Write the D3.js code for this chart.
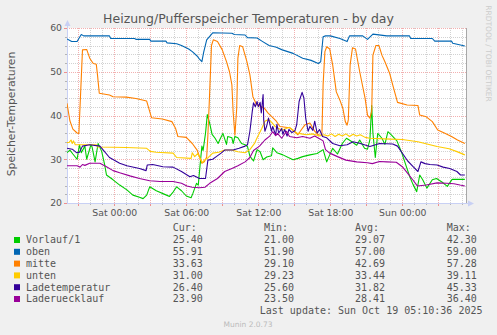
<!DOCTYPE html>
<html>
<head>
<meta charset="utf-8">
<script src="https://cdn.jsdelivr.net/npm/d3@7"></script>
<style>
  html, body { margin: 0; padding: 0; background: #F0F0F0; }
  svg { display: block; }
</style>
</head>
<body>
<svg id="chart" width="497" height="335"></svg>
<script>
// ---- chart text ----
const chartTitle = "Heizung/Pufferspeicher Temperaturen - by day";
const yAxisLabel = "Speicher-Temperaturen";
const sideNote = "RRDTOOL / TOBI OETIKER";
const lastUpdate = "Last update: Sun Oct 19 05:10:36 2025";
const footer = "Munin 2.0.73";

// ---- axes (time in hours relative to Sat 00:00) ----
const xDomain = [-3.94, 29.39];
const xTickHours = [0, 6, 12, 18, 24];
const xTickLabels = ["Sat 00:00", "Sat 06:00", "Sat 12:00", "Sat 18:00", "Sun 00:00"];
const yDomain = [20, 60];
const yTicks = [20, 30, 40, 50, 60];

// ---- legend ----
const seriesNames = ["Vorlauf/1", "oben", "mitte", "unten", "Ladetemperatur", "Laderuecklauf"];
const seriesColors = ["#00CC00", "#0066B3", "#FF8000", "#FFCC00", "#330099", "#990099"];
const statHeaders = ["Cur:", "Min:", "Avg:", "Max:"];
const curValues = ["25.40", "55.91", "33.63", "31.00", "26.40", "23.90"];
const minValues = ["21.00", "51.90", "29.10", "29.23", "25.60", "23.50"];
const avgValues = ["29.07", "57.00", "42.69", "33.44", "31.82", "28.41"];
const maxValues = ["42.30", "59.00", "57.28", "39.11", "45.33", "36.40"];

// ---- series: [hour, °C] ----
const vorlauf = [[-3.94,31.5],[-3.7,32.1],[-3.45,31.2],[-3.1,30.0],[-2.9,33.3],[-2.75,31.5],[-2.45,33.0],[-2.3,30.0],[-1.95,33.3],[-1.85,32.8],[-1.6,29.4],[-1.35,33.6],[-1.05,31.8],[-0.8,28.7],[-0.65,26.4],[-0.1,25.3],[0.45,24.1],[1.05,23.0],[1.55,21.8],[2.1,21.3],[2.4,21.0],[2.7,21.8],[2.95,23.7],[3.5,22.8],[4.35,21.8],[4.6,21.5],[4.9,22.5],[5.2,23.7],[5.6,22.8],[6.0,21.6],[6.4,21.2],[6.55,22.2],[6.85,24.5],[7.0,24.1],[7.15,28.7],[7.3,33.0],[7.4,32.0],[7.6,35.9],[7.75,40.2],[7.95,38.2],[8.15,35.7],[8.4,34.8],[8.65,33.6],[8.8,34.5],[9.05,35.9],[9.35,33.4],[9.45,35.2],[9.8,34.9],[9.9,33.6],[10.05,35.2],[10.3,34.9],[10.6,33.6],[10.9,33.3],[11.1,32.9],[11.3,30.7],[11.6,29.6],[11.9,32.2],[12.15,31.7],[12.4,29.9],[12.7,30.5],[13.1,30.8],[13.2,32.6],[13.55,31.5],[14.05,31.0],[14.5,30.4],[14.9,29.9],[15.3,30.2],[15.7,30.6],[16.3,31.0],[16.9,31.3],[17.4,32.2],[17.7,29.4],[17.95,31.0],[18.2,32.5],[18.6,31.2],[19.0,33.6],[19.35,34.8],[19.8,34.0],[20.2,33.2],[20.45,34.4],[20.85,32.5],[21.1,32.3],[21.3,34.5],[21.45,42.3],[21.55,36.0],[21.75,30.4],[21.95,35.9],[22.3,34.8],[22.55,33.4],[22.8,36.3],[23.1,35.5],[23.55,34.2],[23.95,31.5],[24.4,27.8],[24.65,25.8],[24.9,24.2],[25.2,22.6],[25.45,26.4],[25.7,25.3],[26.05,23.4],[26.5,25.3],[26.85,25.6],[27.3,24.8],[27.75,23.8],[28.15,25.4],[29.21,25.4]];

const oben = [[-3.94,57.5],[-3.55,56.9],[-3.1,56.9],[-2.75,58.5],[-2.55,58.2],[-0.4,58.2],[-0.3,57.6],[1.7,57.6],[1.8,57.4],[2.95,57.4],[3.05,57.0],[4.3,57.0],[4.4,56.6],[5.2,56.4],[5.6,56.0],[6.2,55.2],[6.5,54.6],[6.9,53.6],[7.1,52.9],[7.3,52.3],[7.45,54.5],[7.7,57.3],[8.2,58.9],[9.8,58.8],[10.0,58.5],[10.9,58.4],[11.1,57.8],[11.9,57.7],[12.3,57.0],[12.9,56.0],[13.5,55.6],[14.0,55.0],[14.9,54.2],[15.7,53.1],[16.4,52.6],[17.0,51.9],[17.2,52.3],[17.4,58.0],[17.6,58.2],[18.0,58.2],[18.8,57.6],[19.4,56.9],[19.6,58.2],[20.7,58.2],[21.1,57.4],[21.55,58.6],[22.7,58.2],[24.6,58.2],[24.7,57.6],[26.5,57.6],[26.7,57.0],[28.1,57.0],[28.2,56.5],[29.21,55.9]];

const mitte = [[-3.94,42.8],[-3.7,38.8],[-3.45,36.9],[-3.1,36.0],[-2.95,35.9],[-2.65,55.0],[-2.3,55.1],[-2.05,53.1],[-1.75,51.9],[-1.5,51.7],[-1.4,49.3],[-1.25,45.1],[-0.4,44.7],[-0.1,44.3],[1.0,44.2],[1.8,43.9],[2.7,43.3],[3.1,39.5],[4.0,39.2],[4.8,38.6],[5.1,37.1],[5.3,35.2],[6.0,35.0],[6.5,33.6],[6.9,32.1],[7.1,30.6],[7.3,29.1],[7.5,29.4],[7.7,30.5],[7.8,35.5],[7.95,45.4],[8.1,56.0],[8.25,57.3],[8.6,56.9],[9.0,55.0],[9.35,52.3],[9.6,50.0],[9.8,47.0],[9.9,40.9],[10.05,35.5],[10.2,41.6],[10.3,53.1],[10.45,56.0],[10.7,55.7],[11.05,52.3],[11.3,49.3],[11.55,44.3],[11.85,42.5],[12.5,41.7],[12.8,40.6],[13.1,39.8],[13.5,38.7],[13.8,37.5],[14.6,37.2],[15.0,36.4],[15.3,35.6],[15.6,36.8],[15.9,37.9],[16.3,38.3],[16.7,36.4],[17.0,35.6],[17.3,35.5],[17.4,47.0],[17.55,54.6],[17.7,55.7],[17.95,55.2],[18.2,51.5],[18.5,45.4],[18.8,43.5],[19.05,41.6],[19.25,38.6],[19.4,37.8],[19.5,39.0],[19.65,51.5],[19.85,55.5],[20.1,55.2],[20.45,50.0],[20.9,43.9],[21.1,40.1],[21.3,39.4],[21.45,41.0],[21.55,53.8],[21.8,56.0],[22.05,56.0],[22.3,53.8],[22.55,52.3],[22.95,49.6],[23.2,47.0],[23.6,43.0],[24.4,42.4],[25.3,42.3],[25.45,40.1],[26.0,39.7],[26.5,38.6],[26.95,36.7],[27.5,36.0],[28.1,35.2],[28.6,34.4],[29.21,33.6]];

const unten = [[-3.94,33.8],[-3.75,33.9],[-3.6,34.4],[-3.5,33.6],[-3.4,34.2],[-3.25,33.3],[-1.5,33.3],[-1.4,32.8],[1.0,32.7],[2.7,32.5],[3.0,31.8],[3.5,31.6],[4.9,31.4],[5.2,30.4],[6.4,30.2],[6.5,31.5],[6.7,30.6],[6.95,31.3],[7.15,30.2],[7.35,29.2],[7.5,29.8],[7.8,30.3],[8.2,31.4],[8.7,31.6],[9.2,32.1],[9.8,32.1],[10.3,31.7],[10.9,31.5],[11.3,32.2],[11.7,33.7],[11.95,35.2],[12.3,37.1],[12.55,38.7],[12.85,39.1],[13.1,38.5],[13.4,37.5],[13.7,37.0],[14.0,36.7],[14.6,37.3],[15.2,36.0],[15.6,35.8],[16.0,35.6],[16.5,35.8],[17.1,35.3],[17.5,35.6],[17.8,35.3],[18.1,35.8],[18.4,35.2],[18.7,35.7],[19.0,35.3],[19.3,35.8],[19.6,35.2],[19.9,35.7],[20.2,35.3],[20.5,35.6],[20.9,35.0],[21.3,34.8],[23.0,34.6],[24.0,34.5],[25.3,34.0],[26.9,32.9],[27.9,32.4],[28.5,31.8],[29.21,31.0]];

const ladetemperatur = [[-3.94,32.5],[-3.5,32.3],[-3.15,31.5],[-2.9,31.6],[-2.65,33.0],[-2.05,33.3],[-1.2,33.0],[-0.95,32.2],[-0.4,30.4],[0.45,29.1],[1.05,28.5],[2.1,27.9],[2.65,27.4],[2.75,28.7],[3.2,28.8],[4.05,28.3],[4.9,28.2],[5.6,27.2],[6.3,26.0],[6.6,26.3],[7.1,25.6],[7.6,25.6],[7.8,29.8],[8.2,30.0],[8.5,30.6],[8.9,31.4],[9.2,32.1],[9.9,32.1],[10.4,32.5],[10.9,33.0],[11.1,33.3],[11.3,36.4],[11.5,41.0],[11.6,42.9],[11.75,42.0],[11.9,43.2],[12.0,42.0],[12.15,43.0],[12.25,40.6],[12.4,44.8],[12.45,39.0],[12.55,36.4],[12.7,37.6],[12.85,39.4],[13.1,36.4],[13.2,37.5],[13.45,35.5],[13.55,38.0],[13.7,36.0],[13.95,37.0],[14.05,35.7],[14.2,36.8],[14.4,35.3],[14.55,36.8],[14.8,36.1],[15.05,36.5],[15.2,37.9],[15.4,43.2],[15.65,45.3],[15.8,44.0],[15.95,39.4],[16.15,36.4],[16.3,37.5],[16.55,36.6],[16.7,38.7],[16.9,36.0],[17.1,36.8],[17.35,35.2],[17.7,34.9],[18.2,33.6],[18.8,33.1],[19.4,33.3],[19.9,34.0],[20.5,33.6],[21.3,32.9],[22.1,33.6],[23.2,33.5],[23.6,33.0],[24.05,31.2],[24.45,29.6],[24.9,28.3],[25.3,27.2],[25.55,29.4],[25.9,29.0],[26.3,28.8],[26.9,28.7],[27.4,28.2],[27.95,27.9],[28.55,27.2],[28.85,26.4],[29.21,26.4]];

const laderuecklauf = [[-3.94,28.5],[-3.1,28.5],[-2.85,28.2],[-2.65,28.8],[-2.45,28.6],[-2.05,29.1],[-1.2,29.1],[-0.65,28.3],[-0.1,27.4],[0.45,26.9],[1.3,26.2],[2.1,25.6],[2.95,25.1],[3.8,24.9],[4.9,24.9],[5.6,24.5],[6.05,23.9],[6.5,23.6],[7.1,23.5],[7.55,23.6],[7.95,24.5],[8.6,25.6],[9.2,27.2],[9.8,27.9],[10.3,28.5],[10.9,29.4],[11.3,30.4],[11.6,32.0],[12.1,33.0],[12.55,34.4],[12.95,35.3],[13.2,36.3],[13.45,35.4],[13.6,35.9],[13.95,34.8],[14.35,36.4],[14.6,35.2],[15.2,34.9],[15.7,35.2],[16.3,34.8],[16.7,35.3],[17.1,34.7],[17.4,34.2],[17.6,32.2],[17.95,31.4],[18.6,30.6],[19.3,29.8],[20.2,29.4],[21.1,29.2],[21.5,29.0],[22.1,29.5],[22.7,29.4],[23.5,29.3],[24.0,28.3],[24.5,26.6],[24.9,25.2],[25.25,23.9],[26.0,24.1],[26.9,24.6],[27.7,24.5],[28.3,24.4],[28.8,24.1],[29.21,23.9]];

const seriesData = [vorlauf, oben, mitte, unten, ladetemperatur, laderuecklauf];

// ---- drawing ----
const svg = d3.select("#chart");
const font = "'DejaVu Sans', sans-serif";
const mono = "'DejaVu Sans Mono', monospace";
const textColor = "#555";

const plot = { left: 67, right: 467, top: 28, bottom: 203 };
const x = d3.scaleLinear().domain(xDomain).range([plot.left, plot.right]);
const y = d3.scaleLinear().domain(yDomain).range([plot.bottom, plot.top]);
const px = v => Math.round(v) + 0.5;

// canvas
svg.append("rect").attr("x", plot.left).attr("y", plot.top)
  .attr("width", plot.right - plot.left).attr("height", plot.bottom - plot.top)
  .attr("fill", "#FFFFFF");

// grid: hourly / every 2 °C minor, 3-hourly / every 10 °C major
const minorColor = "#D2D2D2", majorColor = "#F2B0B0";
const grid = svg.append("g").attr("shape-rendering", "crispEdges");
const hours = d3.range(Math.ceil(xDomain[0]), Math.floor(xDomain[1]) + 1);
hours.forEach(h => {
  const major = ((h % 3) + 3) % 3 === 0;
  const gx = px(x(h));
  grid.append("line").attr("x1", gx).attr("x2", gx)
    .attr("y1", plot.top).attr("y2", plot.bottom)
    .attr("stroke", major ? majorColor : minorColor)
    .attr("stroke-dasharray", "1,1");
  grid.append("line").attr("x1", gx).attr("x2", gx)
    .attr("y1", plot.bottom).attr("y2", plot.bottom + (major ? 3 : 2))
    .attr("stroke", major ? "#EE9090" : "#B4B4B4");
});
d3.range(yDomain[0], yDomain[1] + 1, 2).forEach(v => {
  const major = v % 10 === 0;
  const gy = px(y(v));
  grid.append("line").attr("x1", plot.left).attr("x2", plot.right)
    .attr("y1", gy).attr("y2", gy)
    .attr("stroke", major ? majorColor : minorColor)
    .attr("stroke-dasharray", "1,1");
  grid.append("line").attr("x1", plot.left - (major ? 3 : 2)).attr("x2", plot.left)
    .attr("y1", gy).attr("y2", gy)
    .attr("stroke", major ? "#EE9090" : "#B4B4B4");
});

// axes lines with arrows
const axisColor = "#C8D0F4";
svg.append("line").attr("x1", plot.left + 0.5).attr("x2", plot.left + 0.5)
  .attr("y1", plot.bottom).attr("y2", 24).attr("stroke", axisColor);
svg.append("path").attr("d", `M${plot.left - 2.5},26 L${plot.left + 3.5},26 L${plot.left + 0.5},20 Z`).attr("fill", axisColor);
svg.append("line").attr("x1", plot.left).attr("x2", 470)
  .attr("y1", plot.bottom + 0.5).attr("y2", plot.bottom + 0.5).attr("stroke", axisColor);
svg.append("path").attr("d", `M468,${plot.bottom - 2.5} L468,${plot.bottom + 3.5} L474,${plot.bottom + 0.5} Z`).attr("fill", axisColor);

// right edge rule
svg.append("line").attr("x1", 466.5).attr("x2", 466.5)
  .attr("y1", plot.top).attr("y2", plot.bottom).attr("stroke", "#A8A8A8");

// series lines
svg.append("clipPath").attr("id", "plotclip")
  .append("rect").attr("x", plot.left).attr("y", plot.top - 2)
  .attr("width", plot.right - plot.left).attr("height", plot.bottom - plot.top + 4);
const line = d3.line().x(d => x(d[0])).y(d => y(d[1]));
const lines = svg.append("g").attr("clip-path", "url(#plotclip)");
seriesData.forEach((data, i) => {
  lines.append("path").datum(data).attr("d", line)
    .attr("fill", "none").attr("stroke", seriesColors[i])
    .attr("stroke-width", 1.1).attr("stroke-linejoin", "round");
});

// tick labels via d3 axes
const yAxis = svg.append("g").attr("transform", `translate(${plot.left},0)`)
  .call(d3.axisLeft(y).tickValues(yTicks).tickSize(0).tickPadding(5).tickFormat(d3.format("d")));
const xAxis = svg.append("g").attr("transform", `translate(0,${plot.bottom})`)
  .call(d3.axisBottom(x).tickValues(xTickHours).tickSize(0).tickPadding(6)
    .tickFormat((d, i) => xTickLabels[i]));
[yAxis, xAxis].forEach(a => {
  a.select(".domain").remove();
  a.selectAll("text").attr("fill", textColor).style("font-family", font).style("font-size", "9.3px");
});

// title
svg.append("text").attr("x", 248.5).attr("y", 23).attr("text-anchor", "middle")
  .attr("fill", textColor).style("font-family", font).style("font-size", "12.5px")
  .text(chartTitle);

// vertical axis label
svg.append("text").attr("transform", "translate(14.5,114) rotate(-90)")
  .attr("text-anchor", "middle").attr("fill", textColor)
  .style("font-family", font).style("font-size", "10.8px").text(yAxisLabel);

// side note
svg.append("text").attr("transform", "translate(486,53.5) rotate(90)")
  .attr("text-anchor", "middle").attr("fill", "#CCCCCC")
  .style("font-family", font).style("font-size", "7.5px").text(sideNote);

// legend
const statX = [172.7, 264, 355, 446.7];
const legend = svg.append("g").style("font-family", mono).style("font-size", "10px").attr("fill", textColor);
statHeaders.forEach((h, j) => legend.append("text").attr("x", statX[j]).attr("y", 230.8).text(h));
const statCols = [curValues, minValues, avgValues, maxValues];
seriesNames.forEach((name, i) => {
  const base = 243.3 + i * 11.8;
  legend.append("rect").attr("x", 14).attr("y", base - 6.3).attr("width", 6).attr("height", 6)
    .attr("fill", seriesColors[i]);
  legend.append("text").attr("x", 26).attr("y", base).text(name);
  statCols.forEach((col, j) => legend.append("text").attr("x", statX[j]).attr("y", base).text(col[i]));
});
legend.append("text").attr("x", 482.5).attr("y", 314.3).attr("text-anchor", "end").text(lastUpdate);

svg.append("text").attr("x", 248).attr("y", 326.7).attr("text-anchor", "middle")
  .attr("fill", "#BBBBBB").style("font-family", font).style("font-size", "7.5px").text(footer);
</script>
</body>
</html>
